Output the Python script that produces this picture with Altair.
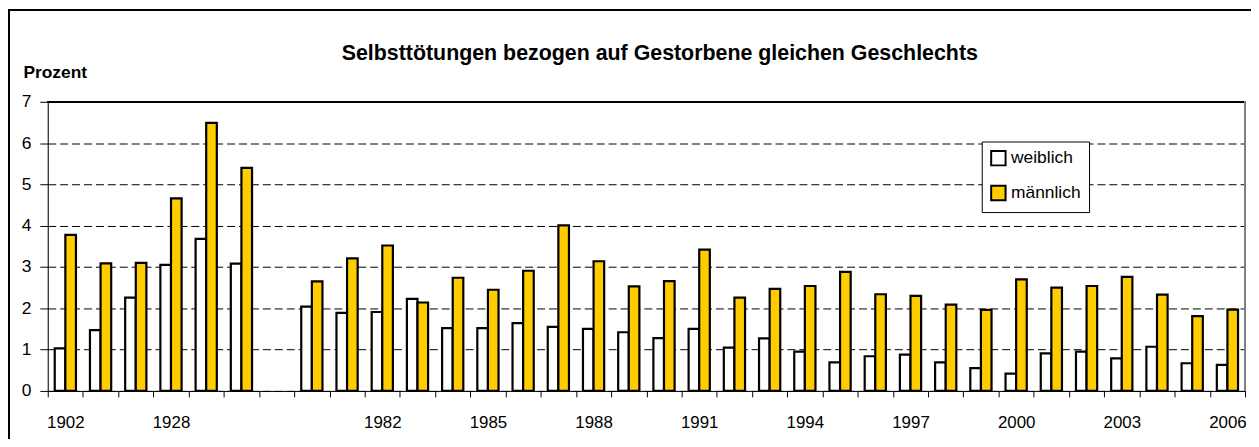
import altair as alt
import pandas as pd

# Categories (the early years between the labelled ones are not labelled in the original)
categories = ["1902", "1910", "1920", "1928", "1932", "1938", " ",
              "1980", "1981", "1982", "1983", "1984", "1985", "1986", "1987", "1988",
              "1989", "1990", "1991", "1992", "1993", "1994", "1995", "1996", "1997",
              "1998", "1999", "2000", "2001", "2002", "2003", "2004", "2005", "2006"]
shown_labels = ["1902", "1928", "1982", "1985", "1988", "1991", "1994", "1997", "2000", "2003", "2006"]

weiblich = [1.03, 1.47, 2.26, 3.05, 3.68, 3.08, None,
            2.04, 1.89, 1.91, 2.23, 1.52, 1.52, 1.64, 1.55, 1.50,
            1.42, 1.28, 1.50, 1.05, 1.27, 0.95, 0.69, 0.84, 0.88,
            0.69, 0.55, 0.42, 0.91, 0.95, 0.79, 1.07, 0.67, 0.63]
maennlich = [3.78, 3.09, 3.10, 4.66, 6.49, 5.40, None,
             2.65, 3.21, 3.52, 2.14, 2.74, 2.45, 2.91, 4.01, 3.14,
             2.53, 2.66, 3.42, 2.26, 2.47, 2.54, 2.88, 2.34, 2.30,
             2.09, 1.96, 2.70, 2.50, 2.54, 2.76, 2.33, 1.81, 1.97]

series_names = ["weiblich", "männlich"]
series_colors = ["#FFFFFF", "#FFCC00"]
y_ticks = [0, 1, 2, 3, 4, 5, 6, 7]

title_text = "Selbsttötungen bezogen auf Gestorbene gleichen Geschlechts"
y_title = "Prozent"

FONT = "Arial, Liberation Sans, sans-serif"
FS = 17.5
W, H = 1205, 291

rows = []
for c, w, m in zip(categories, weiblich, maennlich):
    if w is not None:
        rows.append({"Jahr": c, "Geschlecht": series_names[0], "Wert": w})
    if m is not None:
        rows.append({"Jahr": c, "Geschlecht": series_names[1], "Wert": m})
df = pd.DataFrame(rows)

label_list = ",".join("'" + s + "'" for s in shown_labels)

bars = alt.Chart(df).mark_bar(stroke="black", strokeWidth=2.2).encode(
    x=alt.X("Jahr:N", sort=categories,
            scale=alt.Scale(domain=categories, paddingInner=0, paddingOuter=0),
            axis=alt.Axis(title=None, values=categories, tickBand="extent",
                          labelExpr=f"indexof([{label_list}], datum.value) >= 0 ? datum.value : ''",
                          labelAngle=0, labelFont=FONT, labelFontSize=17, labelColor="black",
                          labelPadding=31, tickSize=6, tickColor="black", domainColor="black",
                          domainWidth=1, grid=False, labelBaseline="alphabetic")),
    xOffset=alt.XOffset("Geschlecht:N", sort=series_names,
                        scale=alt.Scale(domain=series_names, paddingOuter=0.66, paddingInner=0)),
    y=alt.Y("Wert:Q", scale=alt.Scale(domain=[0, 7], nice=False),
            axis=alt.Axis(title=y_title, values=y_ticks, titleAngle=0, titleAlign="left",
                          titleX=-25, titleY=-24, titleBaseline="alphabetic",
                          titleFont=FONT, titleFontSize=FS, titleFontWeight="bold", titleColor="black",
                          labelFont=FONT, labelFontSize=FS, labelColor="black", labelPadding=9,
                          tickSize=8, tickColor="black", domainColor="black", domainWidth=1,
                          grid=True, gridColor="black", gridDash=[8, 4], gridWidth=1)),
    fill=alt.Fill("Geschlecht:N", sort=series_names,
                  scale=alt.Scale(domain=series_names, range=series_colors),
                  legend=alt.Legend(title=None, orient="none", legendX=940, legendY=40,
                                    fillColor="white", strokeColor="black", padding=8,
                                    rowPadding=12, symbolType="square", symbolSize=210,
                                    symbolStrokeColor="black", symbolStrokeWidth=2,
                                    labelFont=FONT, labelFontSize=FS, labelColor="black",
                                    labelOffset=4)),
)

title_df = pd.DataFrame({"t": [title_text]})
title_mark = alt.Chart(title_df).mark_text(
    font=FONT, fontSize=21.5, fontWeight="bold", color="black",
    align="center", baseline="alphabetic").encode(
    text="t:N", x=alt.value(616), y=alt.value(-42))

top_rule = alt.Chart(df).mark_rule(color="black", strokeWidth=1.2).encode(
    x=alt.value(0), x2=alt.value(W), y=alt.value(0))
right_rule = alt.Chart(df).mark_rule(color="#808080", strokeWidth=1).encode(
    x=alt.value(W), y=alt.value(0), y2=alt.value(H))
outer_left = alt.Chart(df).mark_rule(color="black", strokeWidth=1.5).encode(
    x=alt.value(-39.2), y=alt.value(-92.2), y2=alt.value(H + 60))
outer_top = alt.Chart(df).mark_rule(color="black", strokeWidth=1.5).encode(
    x=alt.value(-39.2), x2=alt.value(W + 10), y=alt.value(-92.2))

chart = alt.layer(bars, title_mark, top_rule, right_rule, outer_left, outer_top).properties(
    width=W, height=H,
    autosize=alt.AutoSizeParams(type="none"),
    padding={"left": 40, "top": 93, "right": 6, "bottom": 47},
).configure_view(stroke=None).configure(background="white")

chart.save("out.html", embed_options={"renderer": "svg", "actions": False})
